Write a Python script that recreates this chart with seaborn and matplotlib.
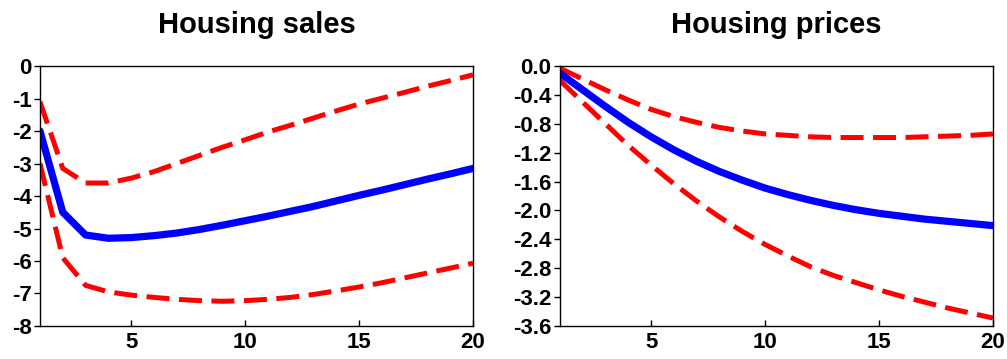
import numpy as np
import pandas as pd
import matplotlib
matplotlib.use("Agg")
import matplotlib.pyplot as plt
import seaborn as sns
from matplotlib.ticker import MultipleLocator, FormatStrFormatter

# ======== data ========
horizon = list(range(1, 21))

sales_mid = [-2.0, -4.5, -5.2, -5.3, -5.28, -5.22, -5.14, -5.03, -4.9, -4.76,
             -4.62, -4.47, -4.32, -4.15, -3.98, -3.82, -3.65, -3.48, -3.32, -3.15]
sales_hi = [-1.1, -3.15, -3.6, -3.6, -3.45, -3.25, -3.0, -2.75, -2.5, -2.27,
            -2.03, -1.82, -1.6, -1.38, -1.17, -0.99, -0.81, -0.62, -0.45, -0.27]
sales_lo = [-3.0, -5.9, -6.75, -6.95, -7.05, -7.12, -7.18, -7.22, -7.24, -7.22,
            -7.18, -7.12, -7.03, -6.92, -6.8, -6.67, -6.52, -6.37, -6.22, -6.07]

price_mid = [-0.1, -0.33, -0.56, -0.78, -0.98, -1.16, -1.32, -1.46, -1.58, -1.69,
             -1.78, -1.86, -1.93, -1.99, -2.04, -2.08, -2.12, -2.15, -2.18, -2.21]
price_hi = [-0.03, -0.18, -0.33, -0.47, -0.6, -0.7, -0.78, -0.85, -0.9, -0.94,
            -0.96, -0.98, -0.99, -0.99, -0.99, -0.99, -0.98, -0.97, -0.96, -0.94]
price_lo = [-0.2, -0.5, -0.8, -1.1, -1.37, -1.63, -1.87, -2.09, -2.29, -2.47,
            -2.63, -2.78, -2.9, -3.0, -3.1, -3.19, -3.27, -3.35, -3.42, -3.49]

titles = ["Housing sales", "Housing prices"]
# =============================================

sns.set_style("white")
plt.rcParams["font.family"] = ["Liberation Sans", "DejaVu Sans"]
plt.rcParams["text.color"] = "black"
plt.rcParams["xtick.color"] = "black"
plt.rcParams["ytick.color"] = "black"

fig = plt.figure(figsize=(10.07, 3.59), dpi=100)
ax1 = fig.add_axes([0.0397, 0.092, 0.430, 0.724])
ax2 = fig.add_axes([0.556, 0.092, 0.430, 0.724])


def draw(ax, mid, hi, lo, title, ylim, ystep, fmt):
    # confidence bands first, point estimate on top
    for band in (hi, lo):
        sns.lineplot(x=horizon, y=band, ax=ax, color="#ff0000", lw=3.6,
                     linestyle=(0, (4.6, 1.9)))
    sns.lineplot(x=horizon, y=mid, ax=ax, color="#0000ff", lw=5.2)

    ax.set_xlim(1, 20)
    ax.set_ylim(*ylim)
    ax.xaxis.set_major_locator(MultipleLocator(5))
    ax.xaxis.set_minor_locator(MultipleLocator(1))
    ax.yaxis.set_major_locator(MultipleLocator(ystep))
    ax.yaxis.set_major_formatter(FormatStrFormatter(fmt))
    ax.tick_params(axis="x", which="both", direction="in", length=4, width=1,
                   labelsize=16, pad=4)
    ax.tick_params(axis="y", direction="out", length=4, width=1, labelsize=16, pad=2)
    ax.tick_params(left=True, bottom=True)
    for lab in ax.get_xticklabels() + ax.get_yticklabels():
        lab.set_fontweight("bold")
    for sp in ax.spines.values():
        sp.set_visible(True)
        sp.set_color("black")
        sp.set_linewidth(1)
    ax.set_title(title, fontsize=21, fontweight="bold", pad=24)
    ax.set_xlabel("")
    ax.set_ylabel("")


draw(ax1, sales_mid, sales_hi, sales_lo, titles[0], (-8, 0), 1, "%d")
draw(ax2, price_mid, price_hi, price_lo, titles[1], (-3.6, 0), 0.4, "%.1f")

fig.savefig("out.png", dpi=100)
